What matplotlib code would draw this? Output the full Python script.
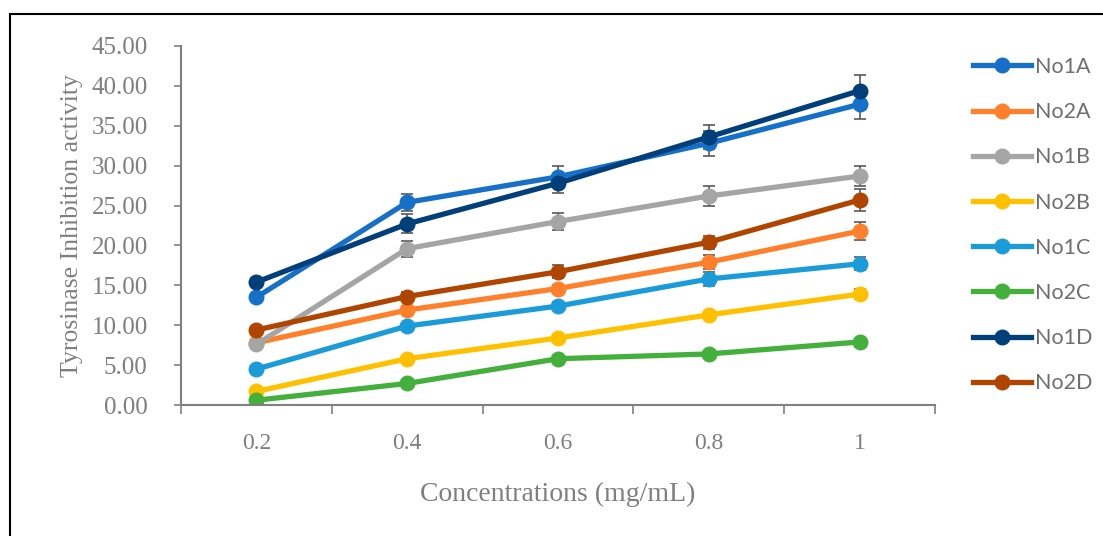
import matplotlib.pyplot as plt
import numpy as np
from matplotlib.patches import Rectangle
from matplotlib.lines import Line2D

# concentrations (mg/mL)
conc = ['0.2', '0.4', '0.6', '0.8', '1']

names = ['No1A', 'No2A', 'No1B', 'No2B', 'No1C', 'No2C', 'No1D', 'No2D']
colors = ['#1670C7', '#FF7F2A', '#A5A5A5', '#FFC000', '#1B9CD9', '#43B03C', '#003F7A', '#B04500']

no1a = [13.5, 25.4, 28.6, 32.8, 37.7]
no2a = [7.8, 11.9, 14.6, 17.9, 21.8]
no1b = [7.6, 19.6, 23.0, 26.2, 28.7]
no2b = [1.7, 5.8, 8.4, 11.3, 13.9]
no1c = [4.5, 9.9, 12.4, 15.8, 17.7]
no2c = [0.6, 2.7, 5.8, 6.4, 7.9]
no1d = [15.4, 22.7, 27.8, 33.6, 39.4]
no2d = [9.4, 13.6, 16.7, 20.4, 25.7]

# error bar sizes
err1a = [0.4, 1.1, 1.3, 1.6, 1.9]
err2a = [0.3, 0.5, 0.5, 0.9, 1.1]
err1b = [0.3, 1.0, 1.1, 1.3, 1.3]
err2b = [0.3, 0.3, 0.4, 0.4, 0.6]
err1c = [0.3, 0.4, 0.5, 0.9, 0.8]
err2c = [0.2, 0.3, 0.3, 0.3, 0.3]
err1d = [0.5, 1.2, 1.2, 1.5, 2.0]
err2d = [0.4, 0.6, 0.8, 0.8, 1.4]

values = [no1a, no2a, no1b, no2b, no1c, no2c, no1d, no2d]
errors = [err1a, err2a, err1b, err2b, err1c, err2c, err1d, err2d]

W, H = 1103, 536
fig = plt.figure(figsize=(W / 100, H / 100), dpi=100)
ax = fig.add_axes([181 / W, 1 - 405 / H, 754 / W, 359 / H])

gray = '#808080'
txt = '#7F7F7F'
serif = 'Liberation Serif'

x = np.arange(len(conc))
handles = []
for name, col, v, e in zip(names, colors, values, errors):
    ax.errorbar(x, v, yerr=e, color=col, lw=3.8, marker='o', ms=10.5,
                ecolor='#595959', elinewidth=1.2, capsize=4, capthick=1.2)
    handles.append(Line2D([], [], color=col, lw=3.8, marker='o', ms=10.5, label=name))

ax.set_xlim(-0.5, len(conc) - 0.5)
ax.set_ylim(0, 45)
ax.set_yticks(np.arange(0, 46, 5))
ax.set_yticklabels(['%.2f' % t for t in np.arange(0, 46, 5)], fontfamily=serif, fontsize=18, color=txt)

ax.set_xticks(np.arange(-0.5, len(conc), 1))
ax.set_xticklabels([])
ax.set_xticks(x, minor=True)
ax.set_xticklabels(conc, minor=True, fontfamily=serif, fontsize=17, color=txt)
ax.tick_params(axis='x', which='major', length=6.5, width=1.2, color=gray)
ax.tick_params(axis='x', which='minor', length=0, pad=20)
ax.tick_params(axis='y', length=5, width=1.2, color=gray, pad=19)

for s in ['top', 'right']:
    ax.spines[s].set_visible(False)
for s in ['left', 'bottom']:
    ax.spines[s].set_color(gray)
    ax.spines[s].set_linewidth(1.5)

ax.set_xlabel('Concentrations (mg/mL)', fontfamily=serif, fontsize=20, color=txt, labelpad=20)
ax.set_ylabel('Tyrosinase Inhibition activity', fontfamily=serif, fontsize=18.5, color=txt, labelpad=6)

leg = ax.legend(handles=handles, loc='upper left', bbox_to_anchor=(973 / W, 1 - 57 / H),
                bbox_transform=fig.transFigure, frameon=False, borderpad=0, borderaxespad=0,
                labelspacing=1.17, handlelength=2.7, handletextpad=0.2,
                prop={'family': 'Lato', 'size': 15.5})
for t in leg.get_texts():
    t.set_color('#6E6E6E')

# outer frame
fig.patches.append(Rectangle((10 / W, -0.1), 1.2, 1 - 14 / H + 0.1, transform=fig.transFigure,
                             fill=False, edgecolor='black', lw=1.5))

fig.savefig('out.png', dpi=100)
